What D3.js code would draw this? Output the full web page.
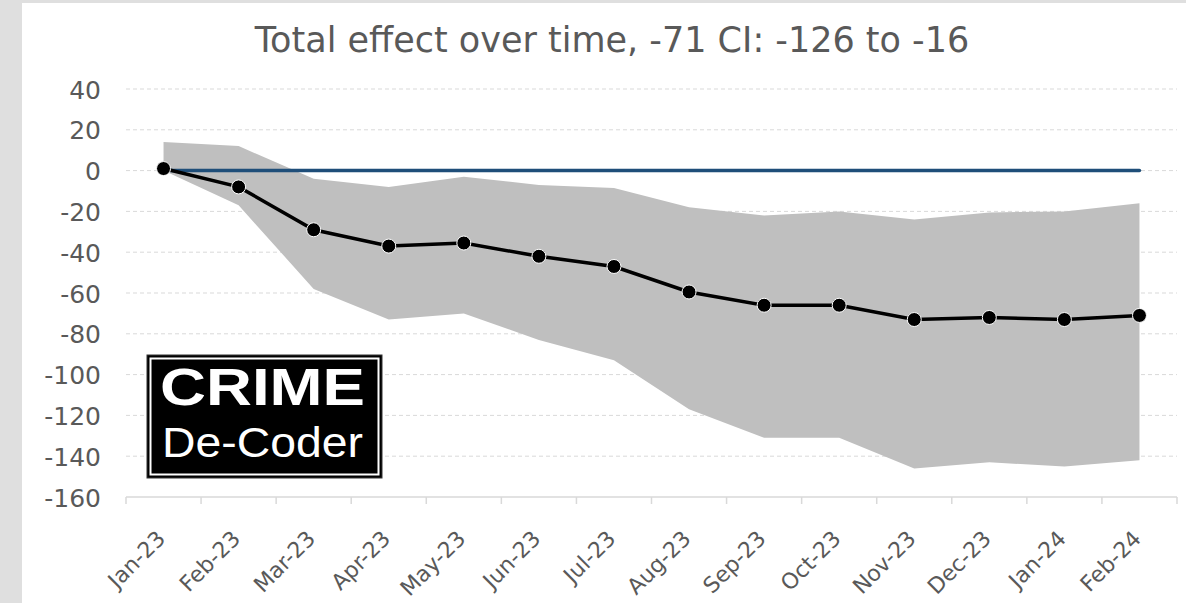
<!DOCTYPE html>
<html>
<head>
<meta charset="utf-8">
<script src="https://cdn.jsdelivr.net/npm/d3@7"></script>
<style>
  html, body { margin: 0; padding: 0; background: #dfdfdf; }
  svg { display: block; }
</style>
</head>
<body>
<div id="chart"></div>
<script>
// months on the category axis
var months = ["Jan-23", "Feb-23", "Mar-23", "Apr-23", "May-23", "Jun-23", "Jul-23",
  "Aug-23", "Sep-23", "Oct-23", "Nov-23", "Dec-23", "Jan-24", "Feb-24"];

// cumulative effect estimate
var effect = [1, -8, -29, -37, -35.5, -42, -47, -59.5, -66, -66, -73, -72, -73, -71];

// confidence band
var upper = [14, 12, -4, -8, -3, -7, -8.5, -18, -22, -20, -24, -20.5, -20, -16];
var lower = [0, -17, -58, -73, -70, -83, -93, -117, -131, -131, -146, -143, -145, -142];

var yTicks = [40, 20, 0, -20, -40, -60, -80, -100, -120, -140, -160];

var title = "Total effect over time, -71 CI: -126 to -16";

var width = 1186, height = 603;

var data = months.map(function(m, i) {
  return { m: m, v: effect[i], lo: lower[i], hi: upper[i] };
});

var svg = d3.select("#chart").append("svg")
  .attr("width", width)
  .attr("height", height);

// white panel
svg.append("rect")
  .attr("x", 22).attr("y", 3)
  .attr("width", width - 22).attr("height", height - 3)
  .style("fill", "#fff");

var x = d3.scaleBand().domain(months).range([126, 1177]).padding(0);
var y = d3.scaleLinear().domain([-160, 40]).range([497, 89]);
var cx = function(d) { return x(d.m) + x.bandwidth() / 2; };

// title
svg.append("text")
  .attr("x", 612).attr("y", 52)
  .style("text-anchor", "middle")
  .style("font-family", "DejaVu Sans, Verdana, sans-serif")
  .style("font-size", "35px")
  .style("fill", "#595959")
  .text(title);

// gridlines
svg.append("g").selectAll("line")
  .data(yTicks.filter(function(t) { return t !== -160; }))
.enter().append("line")
  .attr("x1", 126).attr("x2", 1177)
  .attr("y1", function(d) { return y(d); })
  .attr("y2", function(d) { return y(d); })
  .style("stroke", "#d9d9d9")
  .style("stroke-width", 1)
  .style("stroke-dasharray", "4,3");

// y axis labels
var yAxis = svg.append("g")
  .attr("transform", "translate(101,0)")
  .call(d3.axisLeft(y).tickValues(yTicks).tickSize(0).tickPadding(0)
    .tickFormat(function(d) { return String(d); }));
yAxis.select(".domain").remove();
yAxis.selectAll("text")
  .attr("dy", "0.36em")
  .style("font-family", "DejaVu Sans, Verdana, sans-serif")
  .style("font-size", "25px")
  .style("fill", "#595959");

// band
var area = d3.area()
  .x(cx)
  .y0(function(d) { return y(d.lo); })
  .y1(function(d) { return y(d.hi); });

svg.append("path")
  .datum(data)
  .attr("d", area)
  .style("fill", "#bfbfbf");

// x axis line + tick marks between categories
svg.append("line")
  .attr("x1", 126).attr("x2", 1177)
  .attr("y1", y(-160)).attr("y2", y(-160))
  .style("stroke", "#d9d9d9")
  .style("stroke-width", 1.5);

svg.append("g").selectAll("line")
  .data(months.concat(["end"]))
.enter().append("line")
  .attr("x1", function(d, i) { return 126 + i * x.bandwidth(); })
  .attr("x2", function(d, i) { return 126 + i * x.bandwidth(); })
  .attr("y1", y(-160))
  .attr("y2", y(-160) + 7)
  .style("stroke", "#d9d9d9")
  .style("stroke-width", 1.5);

var xAxis = svg.append("g")
  .attr("transform", "translate(0," + y(-160) + ")")
  .call(d3.axisBottom(x).tickSize(0));
xAxis.select(".domain").remove();
xAxis.selectAll("text")
  .attr("y", 0)
  .attr("dy", 0)
  .attr("transform", "translate(3,43) rotate(-45)")
  .style("text-anchor", "end")
  .style("font-family", "DejaVu Sans, Verdana, sans-serif")
  .style("font-size", "22px")
  .style("fill", "#595959");

// zero reference line
svg.append("line")
  .attr("x1", cx(data[0])).attr("x2", cx(data[data.length - 1]))
  .attr("y1", y(0)).attr("y2", y(0))
  .style("stroke", "#1f4e79")
  .style("stroke-width", 3.5)
  .style("stroke-linecap", "round");

// effect line
svg.append("path")
  .datum(data)
  .attr("d", d3.line().x(cx).y(function(d) { return y(d.v); }))
  .style("fill", "none")
  .style("stroke", "#000")
  .style("stroke-width", 3.5);

svg.append("g").selectAll("circle")
  .data(data)
.enter().append("circle")
  .attr("cx", cx)
  .attr("cy", function(d) { return y(d.v); })
  .attr("r", 7)
  .style("fill", "#000")
  .style("stroke", "#fff")
  .style("stroke-width", 1);

// logo
var logo = svg.append("g");
logo.append("rect")
  .attr("x", 147).attr("y", 355)
  .attr("width", 235).attr("height", 123)
  .style("fill", "#000")
  .style("stroke", "#333")
  .style("stroke-width", 1);
logo.append("rect")
  .attr("x", 150.5).attr("y", 358.5)
  .attr("width", 228).attr("height", 116)
  .style("fill", "none")
  .style("stroke", "#fff")
  .style("stroke-width", 2);
logo.append("text")
  .attr("x", 160).attr("y", 405)
  .attr("textLength", 205)
  .attr("lengthAdjust", "spacingAndGlyphs")
  .style("font-family", "Liberation Sans, Arial, sans-serif")
  .style("font-weight", "bold")
  .style("font-size", "51px")
  .style("fill", "#fff")
  .text("CRIME");
logo.append("text")
  .attr("x", 162).attr("y", 457)
  .attr("textLength", 201)
  .attr("lengthAdjust", "spacingAndGlyphs")
  .style("font-family", "Liberation Sans, Arial, sans-serif")
  .style("font-size", "42px")
  .style("fill", "#fff")
  .text("De-Coder");
</script>
</body>
</html>
